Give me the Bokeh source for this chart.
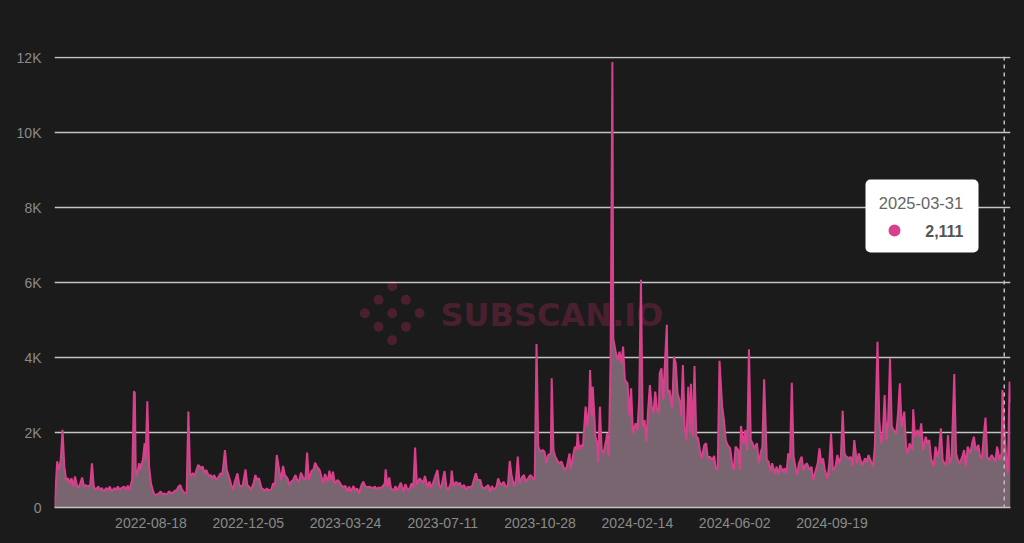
import pandas as pd
from bokeh.plotting import figure
from bokeh.models import (Range1d, FixedTicker, DatetimeTickFormatter, Span, Label,
                          BoxAnnotation, ColumnDataSource)
from bokeh.embed import file_html
from bokeh.resources import INLINE

# ---------------- data (day offsets from start_date, daily transfer counts) ----------------
start_date = "2022-05-02"

days_2022 = [0, 3, 5, 7, 9, 11, 13, 15, 17, 19,
             21, 23, 25, 27, 29, 31, 33, 35, 37, 40,
             42, 44, 46, 49, 51, 53, 55, 58, 60, 62,
             64, 67, 69, 71, 73, 75, 78, 80, 82, 84,
             87, 89, 90, 91, 92, 95, 96, 99, 101, 102,
             104, 106, 108, 110, 112, 114, 117, 119, 121, 123,
             126, 128, 130, 132, 134, 137, 139, 141, 143, 146,
             148, 150, 152, 155, 157, 159, 161, 164, 166, 168,
             170, 173, 175, 177, 179, 181, 184, 186, 188, 191,
             193, 196, 198, 200, 202, 205, 207, 209, 211, 214,
             216, 218, 220, 223, 225, 227, 229, 232, 234, 236,
             238, 240, 243]
vals_2022 = [0, 1230, 1000, 1270, 2070, 1090, 740, 780, 650, 780,
             560, 830, 600, 520, 650, 800, 560, 600, 560, 600,
             1180, 560, 470, 560, 470, 520, 430, 520, 470, 560,
             430, 520, 470, 560, 470, 520, 560, 470, 580, 470,
             740, 3100, 3050, 1000, 830, 1180, 1000, 1270, 1720, 1270,
             2830, 1090, 650, 470, 340, 340, 380, 430, 340, 380,
             340, 430, 400, 380, 430, 470, 560, 600, 470, 380,
             380, 2560, 830, 920, 830, 1000, 1140, 1050, 1090, 920,
             1000, 830, 867, 778, 867, 733, 822, 911, 867, 1533,
             1000, 778, 600, 467, 689, 911, 600, 556, 600, 1018,
             600, 556, 467, 644, 867, 733, 778, 511, 484, 449,
             511, 449, 484]

days_2023 = [245, 247, 249, 252, 254, 256, 258, 261, 263, 265,
             267, 270, 272, 274, 276, 279, 281, 283, 285, 288,
             290, 292, 294, 297, 299, 301, 303, 306, 308, 310,
             312, 314, 317, 319, 321, 323, 326, 328, 330, 332,
             335, 337, 339, 341, 344, 346, 348, 350, 353, 356,
             359, 361, 363, 365, 368, 370, 371, 373, 375, 377,
             380, 382, 384, 386, 388, 391, 393, 395, 397, 400,
             402, 404, 406, 409, 411, 413, 415, 418, 420, 422,
             424, 427, 429, 431, 433, 435, 437, 439, 441, 444,
             445, 447, 450, 452, 454, 456, 459, 461, 463, 465,
             468, 470, 472, 474, 477, 479, 481, 483, 486, 488,
             490, 492, 495, 497, 499, 501, 503, 506, 508, 510,
             512, 515, 517, 519, 521, 524, 526, 528, 530, 533,
             535, 537, 538, 540, 542, 544, 547, 549, 551, 553,
             556, 557, 559, 561, 563, 565, 568, 570, 572, 574,
             577, 578, 580, 583, 585, 586, 588, 590, 592, 595,
             597, 599, 600, 602, 603, 606, 608]
vals_2023 = [644, 600, 1400, 956, 733, 1107, 867, 778, 600, 689,
             716, 867, 733, 689, 929, 778, 733, 1462, 733, 982,
             1000, 1196, 1089, 1000, 822, 644, 893, 689, 982, 733,
             956, 644, 733, 689, 600, 556, 573, 422, 556, 422,
             573, 449, 511, 378, 600, 689, 573, 538, 556, 511,
             556, 484, 538, 511, 573, 644, 1018, 538, 800, 511,
             449, 573, 449, 556, 662, 422, 622, 511, 449, 644,
             538, 1596, 600, 778, 716, 644, 840, 538, 689, 538,
             644, 867, 1000, 600, 511, 733, 973, 556, 467, 644,
             982, 573, 689, 600, 662, 538, 600, 467, 556, 538,
             573, 751, 911, 733, 733, 556, 511, 538, 600, 422,
             573, 484, 538, 778, 644, 600, 689, 538, 600, 1240,
             867, 556, 733, 1356, 644, 822, 867, 689, 751, 867,
             822, 733, 780, 4360, 1622, 1489, 1533, 1489, 1178, 1400,
             1444, 3444, 1533, 1356, 1267, 1178, 1222, 1089, 1000, 1089,
             1444, 1000, 1267, 1622, 1533, 1978, 1533, 1667, 1622, 2689,
             2156, 2689, 3667, 2422, 3222, 1889, 1711]

days_2024 = [609, 611, 613, 615, 618, 619, 621, 623, 625, 626,
             629, 631, 633, 635, 637, 639, 642, 644, 646, 648,
             651, 653, 655, 657, 659, 661, 663, 665, 667, 669,
             671, 673, 675, 677, 678, 680, 682, 684, 686, 687,
             689, 692, 694, 696, 698, 701, 702, 704, 706, 708,
             710, 712, 713, 715, 717, 719, 721, 723, 725, 728,
             730, 732, 734, 737, 739, 741, 743, 745, 748, 750,
             752, 754, 757, 759, 761, 763, 766, 768, 769, 772,
             774, 776, 778, 780, 782, 784, 787, 789, 791, 793,
             795, 798, 800, 802, 804, 807, 809, 811, 813, 816,
             818, 820, 822, 824, 826, 828, 830, 832, 834, 837,
             839, 841, 843, 846, 848, 850, 852, 855, 857, 859,
             861, 863, 866, 868, 870, 872, 875, 877, 879, 881,
             883, 885, 887, 890, 892, 894, 896, 899, 901, 903,
             905, 908, 910, 912, 914, 917, 919, 922, 924, 926,
             928, 930, 932, 934, 936, 938, 940, 943, 945, 947,
             949, 952, 954, 956, 958, 961, 962, 964, 967, 969,
             971, 973]
vals_2024 = [1222, 2689, 1533, 1444, 1800, 1978, 1356, 4022, 11880, 4500,
             4111, 3933, 4156, 3844, 4289, 3400, 3311, 2422, 3178, 1978,
             2244, 2067, 2867, 6070, 2156, 2333, 1756, 2600, 3267, 2689,
             2511, 3089, 2600, 2511, 3578, 3711, 2867, 3933, 4870, 3044,
             3133, 2644, 4022, 3844, 3044, 2778, 2422, 3800, 2156, 1800,
             3222, 1978, 3300, 1889, 3773, 1889, 1844, 1533, 1311, 1667,
             1711, 1311, 1356, 1267, 1378, 1000, 1089, 3911, 2689, 2333,
             1800, 1667, 1578, 1178, 1000, 1622, 1533, 1000, 2173, 1711,
             2067, 1533, 4218, 1800, 1711, 1578, 1711, 1178, 1444, 1622,
             3418, 1267, 1222, 956, 1178, 911, 1089, 867, 1133, 956,
             1044, 911, 1444, 1311, 3329, 1356, 1089, 867, 1178, 1356,
             1000, 1133, 1178, 1000, 1089, 733, 911, 1178, 1578, 1178,
             1311, 1000, 778, 1178, 1978, 1000, 1089, 1400, 1178, 1356,
             2582, 1444, 1356, 1311, 1356, 1089, 1800, 1178, 1444, 1267,
             1133, 1311, 1222, 1400, 1267, 1089, 1622, 4422, 2333, 1711,
             1978, 3000, 1800, 2333, 3978, 2156, 2067, 1978, 2511, 3311,
             2156, 2556, 1622, 1444, 1711, 1533, 2618, 1889, 2067, 1889,
             2244, 1533]

days_2025 = [976, 978, 980, 982, 985, 987, 989, 991, 993, 995,
             997, 999, 1001, 1003, 1005, 1008, 1010, 1012, 1014, 1017,
             1019, 1021, 1023, 1026, 1028, 1030, 1032, 1035, 1037, 1039,
             1041, 1043, 1045, 1047, 1050, 1052, 1054, 1056, 1059, 1061,
             1062, 1064, 1066, 1068, 1070, 1071]
vals_2025 = [1889, 1711, 1800, 1311, 1089, 1622, 1356, 1533, 2111, 1267,
             1178, 1133, 1933, 1178, 1311, 3560, 1444, 1267, 1178, 1356,
             1533, 1089, 1622, 1444, 1711, 1889, 1533, 1667, 1356, 1311,
             1889, 2400, 1356, 1267, 1400, 1311, 1222, 1622, 1267, 1444,
             3133, 2111, 1356, 911, 3356, 2800]

x_tick_labels = ["2022-08-18", "2022-12-05", "2023-03-24", "2023-07-11",
                 "2023-10-28", "2024-02-14", "2024-06-02", "2024-09-19"]
y_ticks = [0, 2000, 4000, 6000, 8000, 10000, 12000]
y_tick_labels = ["0", "2K", "4K", "6K", "8K", "10K", "12K"]
tooltip_date = "2025-03-31"

# ---------------- build ----------------
days = days_2022 + days_2023 + days_2024 + days_2025
vals = vals_2022 + vals_2023 + vals_2024 + vals_2025
assert len(days) == len(vals)
t0 = pd.Timestamp(start_date)
dates = [t0 + pd.Timedelta(days=d) for d in days]
src = ColumnDataSource(dict(date=dates, val=vals))


def to_ms(ts):
    return pd.Timestamp(ts).value / 1e6


x_start = to_ms(dates[0])
x_end = to_ms(dates[-1])
Y_TOP = 12000
Y_END = Y_TOP * (451.0 / 450.0)  # 1px headroom so the top gridline is visible

# window-pixel helpers for decorations (frame: x 54..1010, y 56..507)
FX0, FX1, FY0, FY1 = 54.0, 1010.0, 507.0, 56.0


def px_x(X):
    return x_start + (X - FX0) / (FX1 - FX0) * (x_end - x_start)


def px_y(Y):
    return (FY0 - Y) / (FY0 - FY1) * Y_END


BG = "#1b1b1b"
p = figure(width=1024, height=543, output_backend="svg", toolbar_location=None,
           x_axis_type="datetime",
           x_range=Range1d(x_start, x_end), y_range=Range1d(0, Y_END),
           min_border_left=54, min_border_right=14, min_border_top=56, min_border_bottom=36)
p.background_fill_color = BG
p.border_fill_color = BG
p.outline_line_color = None

# watermark
wm_color = "#4a2030"
for dx, dy in [(0, -2), (-1, -1), (1, -1), (-2, 0), (0, 0), (2, 0), (-1, 1), (1, 1), (0, 2)]:
    cx = 391.7 + dx * 13.7
    cy = 312.7 + dy * 13.5
    r = 5
    p.add_layout(BoxAnnotation(left=px_x(cx - r), right=px_x(cx + r),
                               top=px_y(cy - r), bottom=px_y(cy + r),
                               fill_color=wm_color, fill_alpha=1, line_color=None,
                               border_radius=r, level="image"))
p.add_layout(Label(x=px_x(440), y=px_y(314), text="SUBSCAN.IO", text_align="left",
                   text_baseline="middle", text_font="DejaVu Sans", text_font_style="bold",
                   text_font_size="32px", text_color=wm_color, level="image"))

# area + line
p.varea(x="date", y1=0, y2="val", source=src, fill_color="#786570", fill_alpha=1)
p.line(x="date", y="val", source=src, line_color="#d9408c", line_width=2)

# axes
p.xaxis.ticker = FixedTicker(ticks=[to_ms(d) for d in x_tick_labels])
p.xaxis.formatter = DatetimeTickFormatter(days="%Y-%m-%d", months="%Y-%m-%d",
                                          years="%Y-%m-%d", hours="%Y-%m-%d")
p.yaxis.ticker = FixedTicker(ticks=y_ticks)
p.yaxis.major_label_overrides = {t: lab for t, lab in zip(y_ticks, y_tick_labels)}
for ax in (p.xaxis, p.yaxis):
    ax.major_tick_line_color = None
    ax.minor_tick_line_color = None
    ax.major_label_text_font = "Liberation Sans"
    ax.major_label_text_font_size = "14px"
    ax.major_label_text_color = "#8a8a8a"
p.yaxis.axis_line_color = None
p.yaxis.major_label_standoff = 7
p.xaxis.axis_line_color = "#c4c4c4"
p.xaxis.axis_line_width = 1.5
p.xaxis.major_label_standoff = 4
p.xgrid.grid_line_color = None
p.ygrid.grid_line_color = "#c4c4c4"
p.ygrid.grid_line_width = 1.5
p.ygrid.ticker = FixedTicker(ticks=y_ticks[1:])

# hover indicator + tooltip
tip_ts = pd.Timestamp(tooltip_date)
tip_val = vals[dates.index(tip_ts)]
p.add_layout(Span(location=to_ms(tip_ts), dimension="height", line_color="#bbbbbb",
                  line_width=1.5, line_dash="4 4"))
p.add_layout(BoxAnnotation(left=px_x(865), right=px_x(978), top=px_y(179), bottom=px_y(252),
                           fill_color="white", fill_alpha=1, line_color=None,
                           border_radius=5, level="overlay"))
p.add_layout(Label(x=px_x(920.5), y=px_y(202), text=tooltip_date, text_align="center",
                   text_baseline="middle", text_font="Liberation Sans", text_font_size="16.5px",
                   text_color="#666666", level="overlay"))
rd = 6
p.add_layout(BoxAnnotation(left=px_x(894 - rd), right=px_x(894 + rd), top=px_y(230 - rd),
                           bottom=px_y(230 + rd), fill_color="#d9408c", fill_alpha=1,
                           line_color=None, border_radius=rd, level="overlay"))
p.add_layout(Label(x=px_x(963), y=px_y(230), text=f"{tip_val:,}", text_align="right",
                   text_baseline="middle", text_font="Liberation Sans", text_font_style="bold",
                   text_font_size="16px", text_color="#555555", level="overlay"))

html = file_html(p, INLINE, title="transfers")
html = html.replace("</head>",
                    "<style>html,body{margin:0;padding:0;background:%s;}</style></head>" % BG, 1)
open("out.html", "w").write(html)
